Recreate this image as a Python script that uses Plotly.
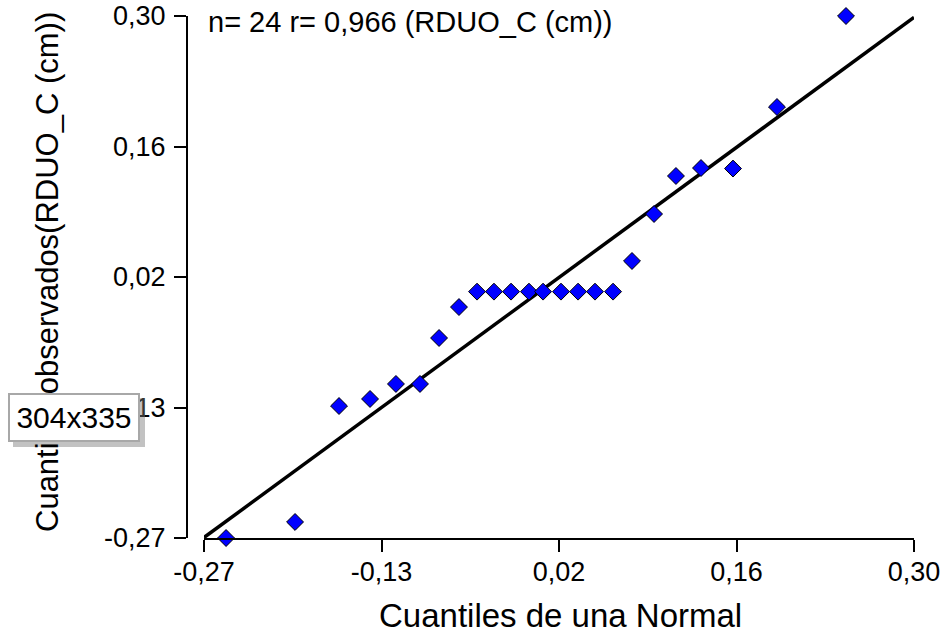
import plotly.graph_objects as go

# Q-Q plot data: theoretical normal quantiles vs observed RDUO_C quantiles (cm)
normal_q = [-0.2523, -0.1969, -0.1616, -0.1367, -0.1159, -0.0966, -0.0813, -0.0653,
            -0.0508, -0.0372, -0.0235, -0.0091, 0.0022, 0.0166, 0.0303, 0.0439,
            0.0584, 0.0736, 0.0913, 0.1089, 0.1290, 0.1547, 0.1900, 0.2454]
observed_q = [-0.2700, -0.2525, -0.1259, -0.1182, -0.1018, -0.1018, -0.0516, -0.0178,
              -0.0010, -0.0010, -0.0010, -0.0010, -0.0010, -0.0010, -0.0010, -0.0010,
              -0.0010, 0.0325, 0.0838, 0.1253, 0.1340, 0.1334, 0.2006, 0.3000]

# Reference line
line_x = [-0.27, 0.30]
line_y = [-0.2695, 0.2985]

# Axis ticks (both axes share the same scale)
tick_vals = [-0.27, -0.1275, 0.015, 0.1575, 0.30]
tick_text = ["-0,27", "-0,13", "0,02", "0,16", "0,30"]
axis_range = [-0.27, 0.30]

stats_text = "n= 24 r= 0,966 (RDUO_C (cm))"
x_title = "Cuantiles de una Normal"
y_title = "Cuantiles observados(RDUO_C (cm))"
size_tip = "304x335"

W, H = 948, 634
ML, MR, MT, MB = 187, 34, 16, 96
PW, PH = W - ML - MR, H - MT - MB


def px(xp):
    return (xp - ML) / PW


def py(yp):
    return (H - MB - yp) / PH


FONT = "Liberation Sans, Arial, sans-serif"

fig = go.Figure()
fig.add_trace(go.Scatter(
    x=line_x, y=line_y, mode="lines",
    line=dict(color="black", width=3.5),
    hoverinfo="skip", showlegend=False, cliponaxis=False,
))
fig.add_trace(go.Scatter(
    x=normal_q, y=observed_q, mode="markers",
    marker=dict(symbol="diamond", size=13, color="#0000FF",
                line=dict(color="black", width=1)),
    showlegend=False, cliponaxis=False,
))

axis_common = dict(
    range=axis_range, tickvals=tick_vals, ticktext=tick_text,
    showline=True, linecolor="black", linewidth=2,
    ticks="outside", ticklen=12, tickwidth=2, tickcolor="black",
    showgrid=False, zeroline=False, automargin=False,
    tickfont=dict(family=FONT, size=27, color="black"),
)

fig.update_layout(
    width=W, height=H,
    margin=dict(l=ML, r=MR, t=MT, b=MB),
    paper_bgcolor="white", plot_bgcolor="white",
    xaxis=dict(domain=[px(204), 1], ticklabelstandoff=-3, **axis_common),
    yaxis=dict(anchor="free", position=0, ticklabelstandoff=3, **axis_common),
    shapes=[
        # soft drop shadow under the size tooltip
        dict(type="rect", xref="paper", yref="paper",
             x0=px(13), x1=px(145), y0=py(447), y1=py(398),
             fillcolor="rgba(120,120,120,0.45)", line=dict(width=0)),
    ],
    annotations=[
        dict(text=stats_text, xref="paper", yref="paper",
             x=px(206), y=py(22), xanchor="left", yanchor="middle",
             showarrow=False, font=dict(family=FONT, size=29, color="black")),
        dict(text=y_title, xref="paper", yref="paper",
             x=px(47), y=py(272), xanchor="center", yanchor="middle",
             textangle=-90, showarrow=False,
             font=dict(family=FONT, size=31, color="black")),
        dict(text=x_title, xref="paper", yref="paper",
             x=px(560), y=py(615), xanchor="center", yanchor="middle",
             showarrow=False, font=dict(family=FONT, size=33, color="black")),
        dict(text=size_tip, xref="paper", yref="paper",
             x=px(74), y=py(417.5), xanchor="center", yanchor="middle",
             width=128, height=45, borderpad=0, borderwidth=2,
             bordercolor="#a8a8a8", bgcolor="white", align="center",
             showarrow=False, font=dict(family=FONT, size=30, color="black")),
    ],
)

fig.write_html("out.html")
